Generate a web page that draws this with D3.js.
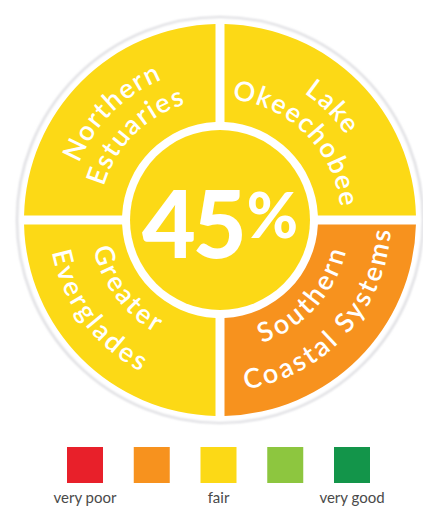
<!DOCTYPE html>
<html>
<head>
<meta charset="utf-8">
<script src="https://cdn.jsdelivr.net/npm/d3@7"></script>
<style>
  html, body { margin: 0; padding: 0; background: #ffffff; }
  svg { display: block; }
</style>
</head>
<body>
<svg id="chart" width="423" height="510"></svg>
<script>
// Condition ratings for each region, drawn clockwise from 12 o'clock
const regionNames = ["Lake Okeechobee", "Southern Coastal Systems", "Greater Everglades", "Northern Estuaries"];
const regionLines = [["Lake", "Okeechobee"], ["Southern", "Coastal Systems"], ["Greater", "Everglades"], ["Northern", "Estuaries"]];
const regionRatings = ["fair", "poor", "fair", "fair"];

// Overall system score
const overallScore = 45;
const overallRating = "fair";

// Rating scale shown in the legend
const ratingCategories = ["very poor", "poor", "fair", "good", "very good"];
const ratingColors = ["#e8202a", "#f7921e", "#fcd916", "#8dc63f", "#13954a"];
const ratingLabels = ["very poor", "", "fair", "", "very good"];

const svg = d3.select("#chart");
const cx = 220, cy = 220;
const outerR = 196, innerR = 98, coreR = 90, rimR = 203;
const gap = 9;

const color = d3.scaleOrdinal().domain(ratingCategories).range(ratingColors);

// soft rim around the dial
const defs = svg.append("defs");
defs.append("filter").attr("id", "soft")
  .attr("x", "-10%").attr("y", "-10%").attr("width", "120%").attr("height", "120%")
  .append("feGaussianBlur").attr("stdDeviation", 1.2);

svg.append("circle")
  .attr("cx", cx).attr("cy", cy).attr("r", rimR)
  .attr("fill", "#ffffff")
  .attr("stroke", "#dcdce0").attr("stroke-width", 2.2)
  .attr("filter", "url(#soft)");

const g = svg.append("g").attr("transform", `translate(${cx},${cy})`);

const regions = regionNames.map((name, i) => ({ name, lines: regionLines[i], rating: regionRatings[i] }));

const pie = d3.pie().sort(null).value(() => 1).padAngle(gap / outerR);
const arc = d3.arc().innerRadius(innerR).outerRadius(outerR).padRadius(outerR);

const slices = pie(regions);

g.selectAll("path.region")
  .data(slices)
  .join("path")
  .attr("class", "region")
  .attr("d", arc)
  .attr("fill", d => color(d.data.rating));

// centre disc with the overall score
g.append("circle").attr("r", coreR).attr("fill", color(overallRating));

const score = g.append("text")
  .attr("text-anchor", "middle")
  .attr("y", 38)
  .attr("fill", "#ffffff")
  .style("font-family", "Lato, 'Open Sans', sans-serif")
  .style("font-weight", 900);
score.append("tspan").style("font-size", "93px").style("letter-spacing", "-3px").text(overallScore);
score.append("tspan").style("font-size", "62px").attr("dy", -20).attr("dx", 3).text("%");

// curved labels: upper labels run clockwise, lower ones counter-clockwise
function arcPath(r, a0, a1, sweep) {
  const x0 = r * Math.sin(a0), y0 = -r * Math.cos(a0);
  const x1 = r * Math.sin(a1), y1 = -r * Math.cos(a1);
  return `M${x0},${y0} A${r},${r} 0 0 ${sweep} ${x1},${y1}`;
}

const labelFont = "Lato, 'Open Sans', sans-serif";
const deg = Math.PI / 180;
const topStyle = { radii: [152, 121], spacing: 1.5, tiltLeft: 0, tiltRight: 0 };
const bottomStyle = { radii: [130, 171], spacing: 2.8, tiltLeft: 8 * deg, tiltRight: 3 * deg };

slices.forEach((s, i) => {
  const mid0 = (s.startAngle + s.endAngle) / 2;
  const isTop = Math.cos(mid0) > 0;
  const st = isTop ? topStyle : bottomStyle;
  // lower labels lean a little towards the horizontal divider
  const mid = Math.sin(mid0) > 0 ? mid0 - st.tiltRight : mid0 + st.tiltLeft;
  const span = Math.PI / 2 * 0.98;
  s.data.lines.forEach((line, j) => {
    const id = `lbl-${i}-${j}`;
    const r = st.radii[j];
    const d = isTop ? arcPath(r, mid - span, mid + span, 1) : arcPath(r, mid + span, mid - span, 0);
    defs.append("path").attr("id", id).attr("d", d);
    g.append("text")
      .attr("fill", "#ffffff")
      .style("font-family", labelFont)
      .style("font-size", "27px")
      .style("font-weight", 600)
      .style("letter-spacing", `${st.spacing}px`)
      .append("textPath")
      .attr("href", `#${id}`)
      .attr("startOffset", "50%")
      .attr("text-anchor", "middle")
      .text(line);
  });
});

// legend
const lx = d3.scalePoint().domain(ratingCategories).range([85, 352]);
const box = 36;
const legend = svg.append("g");
legend.selectAll("rect")
  .data(ratingCategories)
  .join("rect")
  .attr("x", d => lx(d) - box / 2)
  .attr("y", 447)
  .attr("width", box)
  .attr("height", box)
  .attr("fill", d => color(d));

legend.selectAll("text")
  .data(ratingCategories)
  .join("text")
  .attr("x", d => lx(d))
  .attr("y", 503)
  .attr("text-anchor", "middle")
  .attr("fill", "#4a4a4a")
  .style("font-family", labelFont)
  .style("font-size", "15px")
  .text((d, i) => ratingLabels[i]);
</script>
</body>
</html>
